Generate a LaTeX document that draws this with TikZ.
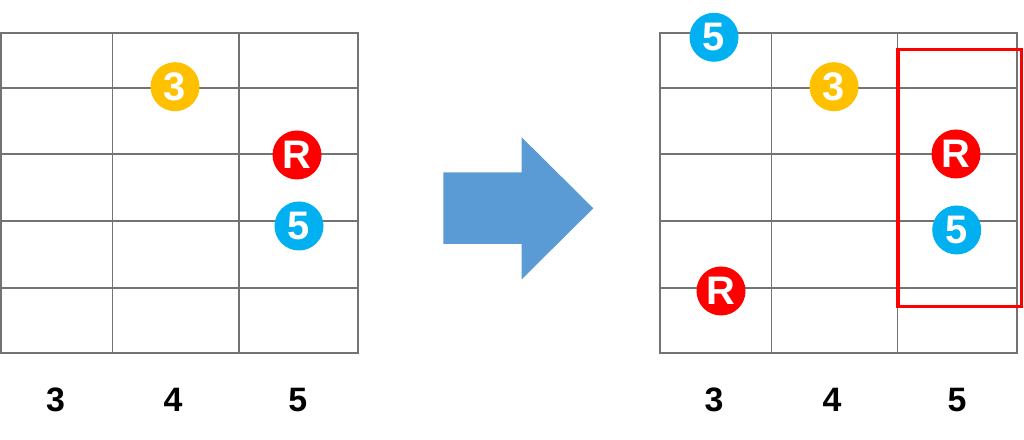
\documentclass[tikz,border=0pt]{standalone}
\usepackage{fontspec}
\setmainfont{Liberation Sans}
\definecolor{gold}{HTML}{FFC000}
\definecolor{sky}{HTML}{00B0F0}
\definecolor{arrowblue}{HTML}{5B9BD5}
\begin{document}
\begin{tikzpicture}[x=1bp,y=1bp,line join=miter,
  fret/.style={draw=black!55,line width=1.3bp},
  dot/.style={circle,minimum size=49bp,inner sep=0pt,text=white,font=\fontsize{40}{40}\selectfont\bfseries},
  root/.style={dot,fill=red},
  third/.style={dot,fill=gold},
  fifth/.style={dot,fill=sky},
  fretnum/.style={font=\fontsize{34}{34}\selectfont\bfseries}]
\useasboundingbox (0,0) rectangle (1024,440);
%% fretboards
\foreach \x/\a/\b/\c in {1/112.7/239/358, 660/771.7/897.7/1017}{
  \foreach \y in {352,286,219,152}
    \draw [fret] (\x,\y) -- (\c,\y);
  \draw [fret] (\a,87) -- (\a,407.3);
  \draw [fret] (\b,87) -- (\b,407.3);
  \draw [fret,line width=2bp] (\x,87) rectangle (\c,407.3);
}
%% left shape
\node (third1) at (175bp,353.3bp) [third] {3};
\node (root1) at (297bp,285bp) [root] {R};
\node (fifth1) at (299bp,214bp) [fifth] {5};
%% arrow
\fill [arrowblue] (443.3,196) -- (443.3,267.7) -- (521.7,267.7) -- (521.7,302.7)
  -- (593.3,231.7) -- (521.7,160.7) -- (521.7,196) -- cycle;
%% right shape
\node (fifth2) at (714bp,402.7bp) [fifth] {5};
\node (third2) at (834bp,353.3bp) [third] {3};
\node (root2) at (956bp,286bp) [root] {R};
\node (fifth3) at (956.7bp,210bp) [fifth] {5};
\node (root3) at (721bp,149bp) [root] {R};
\draw [red,line width=3.3bp] (898,390.7) rectangle (1021.7,133.3);
%% fret numbers
\node (fretL3) at (55.5bp,40bp) [fretnum] {3};
\node (fretL4) at (173bp,40bp) [fretnum] {4};
\node (fretL5) at (297.8bp,40bp) [fretnum] {5};
\node (fretR3) at (714bp,40bp) [fretnum] {3};
\node (fretR4) at (832bp,40bp) [fretnum] {4};
\node (fretR5) at (957bp,40bp) [fretnum] {5};
%
\end{tikzpicture}
\end{document}
